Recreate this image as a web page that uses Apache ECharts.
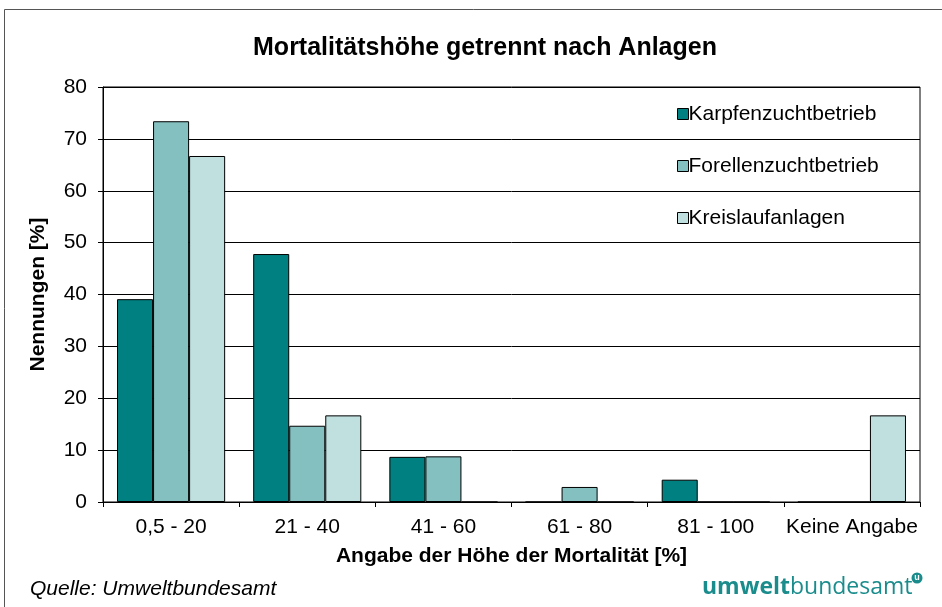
<!DOCTYPE html>
<html>
<head>
<meta charset="utf-8">
<script src="https://cdn.jsdelivr.net/npm/echarts@6/dist/echarts.min.js"></script>
<style>
  html, body { margin: 0; padding: 0; background: #fff; }
  #chart { width: 942px; height: 607px; }
</style>
</head>
<body>
<div id="chart"></div>
<script>
// Kategorien und Werte
const categories = ['0,5 - 20', '21 - 40', '41 - 60', '61 - 80', '81 - 100', 'Keine Angabe']
const karpfen = [39.1, 47.8, 8.7, 0, 4.3, 0]
const forellen = [73.4, 14.7, 8.8, 2.9, 0, 0]
const kreislauf = [66.7, 16.7, 0, 0, 0, 16.7]
const seriesNames = ['Karpfenzuchtbetrieb', 'Forellenzuchtbetrieb', 'Kreislaufanlagen']
const colors = ['#008080', '#85c0c0', '#c0e0e0']

const font = 'Liberation Sans, Arial, sans-serif'
const chart = echarts.init(document.getElementById('chart'))

const makeSeries = (name, data, color) => ({
  name,
  type: 'bar',
  data,
  barGap: '0%',
  barCategoryGap: '20.6%',
  itemStyle: { color, borderColor: '#000', borderWidth: 1 },
})

chart.setOption({
  animation: false,
  textStyle: { fontFamily: font },
  title: {
    text: 'Mortalitätshöhe getrennt nach Anlagen',
    left: 480,
    textAlign: 'center',
    top: 31,
    textStyle: { fontSize: 25, fontWeight: 'bold', color: '#000', fontFamily: font },
  },
  legend: {
    orient: 'vertical',
    left: 672,
    top: 97,
    itemWidth: 11,
    itemHeight: 11,
    itemGap: 28,
    icon: 'rect',
    data: seriesNames,
    itemStyle: { borderColor: '#000', borderWidth: 1 },
    textStyle: { fontSize: 21, color: '#000', fontFamily: font, padding: [0, 0, 0, -5], lineHeight: 24 },
  },
  grid: {
    left: 103,
    right: 22,
    top: 87,
    bottom: 105,
    show: true,
    borderColor: '#000',
    borderWidth: 1,
    backgroundColor: 'transparent',
  },
  xAxis: {
    type: 'category',
    data: categories,
    name: 'Angabe der Höhe der Mortalität [%]',
    nameLocation: 'middle',
    nameGap: 44,
    nameTextStyle: { fontSize: 21, fontWeight: 'bold', color: '#000', fontFamily: font },
    axisLine: { lineStyle: { color: '#000', width: 1 } },
    axisTick: { show: true, length: 5, lineStyle: { color: '#000' } },
    axisLabel: { interval: 0, fontSize: 21, color: '#000', margin: 15, fontFamily: font },
  },
  yAxis: {
    type: 'value',
    min: 0,
    max: 80,
    interval: 10,
    name: 'Nennungen [%]',
    nameLocation: 'middle',
    nameGap: 54,
    nameRotate: 90,
    nameTextStyle: { fontSize: 21, fontWeight: 'bold', color: '#000', fontFamily: font },
    axisLine: { show: true, lineStyle: { color: '#000', width: 1 } },
    axisTick: { show: true, length: 5, lineStyle: { color: '#000' } },
    axisLabel: { fontSize: 21, color: '#000', margin: 16, fontFamily: font },
    splitLine: { lineStyle: { color: '#000', width: 1 } },
  },
  series: [
    makeSeries(seriesNames[0], karpfen, colors[0]),
    makeSeries(seriesNames[1], forellen, colors[1]),
    makeSeries(seriesNames[2], kreislauf, colors[2]),
  ],
  graphic: [
    {
      type: 'rect',
      shape: { x: 4.5, y: 9.5, width: 945, height: 610 },
      style: { fill: 'none', stroke: '#555', lineWidth: 1 },
      silent: true,
    },
    {
      type: 'text',
      left: 30,
      top: 579,
      style: { text: 'Quelle: Umweltbundesamt', font: 'italic 21px ' + font, fill: '#000' },
    },
    {
      type: 'text',
      left: 702,
      top: 576,
      style: {
        text: '{a|umwelt}{b|bundesamt}',
        rich: {
          a: { fontSize: 23, fontWeight: 'bold', fill: '#1a8c8c', fontFamily: 'Open Sans' },
          b: { fontSize: 23, fill: '#1a8c8c', fontFamily: 'Open Sans' },
        },
      },
    },
    {
      type: 'circle',
      shape: { cx: 917, cy: 578, r: 5.5 },
      style: { fill: '#1a8c8c' },
    },
    {
      type: 'text',
      style: { x: 917, y: 578, text: 'u', font: 'bold 9px ' + font, fill: '#fff', align: 'center', verticalAlign: 'middle' },
    },
  ],
})
</script>
</body>
</html>
